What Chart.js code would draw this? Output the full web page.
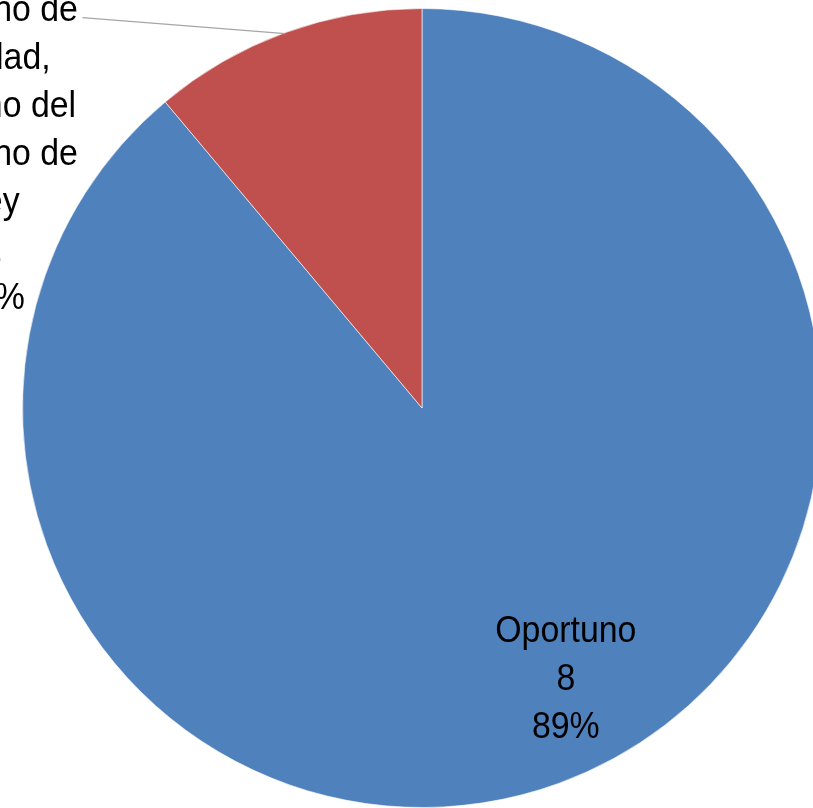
<!DOCTYPE html>
<html>
<head>
<meta charset="utf-8">
<script src="https://cdn.jsdelivr.net/npm/chart.js@4/dist/chart.umd.min.js"></script>
<style>
  html, body { margin: 0; padding: 0; background: #fff; }
  #wrap { width: 813px; height: 808px; overflow: hidden; position: relative; }
  #pie { position: absolute; left: 0; top: 0; }
</style>
</head>
<body>
<div id="wrap"><canvas id="pie" width="844" height="818"></canvas></div>
<script>
const categories = ['Oportuno', 'Término de calidad, término del Término de Ley'];
const values = [8, 1];
const percents = ['89%', '11%'];
const colors = ['#4F81BD', '#C0504D'];
// wrapped lines of the second label (left part is cut off in the picture)
const redLines = ['Término de', 'calidad,', 'término del', 'Término de', 'Ley'];

const FONT = "37px 'Liberation Sans', Arial, sans-serif";
const LINE_H = 48;

function drawLines(ctx, lines, cx, cy) {
    ctx.save();
    ctx.font = FONT;
    ctx.fillStyle = '#000';
    ctx.textAlign = 'center';
    ctx.textBaseline = 'middle';
    const top = cy - (lines.length - 1) * LINE_H / 2;
    lines.forEach((t, i) => {
        ctx.save();
        ctx.translate(cx, top + i * LINE_H);
        ctx.scale(0.915, 1);
        ctx.fillText(t, 0, 0);
        ctx.restore();
    });
    ctx.restore();
}

const labelPlugin = {
    id: 'pieLabels',
    afterDraw(chart) {
        const ctx = chart.ctx;
        const arcs = chart.getDatasetMeta(0).data;
        const a0 = arcs[0], a1 = arcs[1];
        const R = a0.outerRadius;
        const cx = a0.x, cy = a0.y;

        // inside label of the big slice
        drawLines(ctx, [categories[0], String(values[0]), percents[0]],
            cx + 0.36 * R, cy + 0.68 * R);

        // outside label of the small slice with leader line
        const mid = (a1.startAngle + a1.endAngle) / 2;
        const ex = cx + Math.cos(mid) * R, ey = cy + Math.sin(mid) * R;
        ctx.save();
        ctx.strokeStyle = '#A6A6A6';
        ctx.lineWidth = 1.2;
        ctx.beginPath();
        ctx.moveTo(ex, ey + 1);
        ctx.lineTo(cx - 0.85 * R, cy - 0.977 * R);
        ctx.stroke();
        ctx.restore();
        drawLines(ctx, [...redLines, String(values[1]), percents[1]],
            cx - 1.0755 * R, cy - 0.633 * R);
    }
};

new Chart(document.getElementById('pie').getContext('2d'), {
    type: 'pie',
    data: {
        labels: categories,
        datasets: [{
            data: values,
            backgroundColor: colors,
            borderColor: 'rgba(255,255,255,0.6)',
            borderWidth: 1
        }]
    },
    options: {
        responsive: false,
        animation: false,
        layout: { padding: { left: 22, right: 22, top: 8, bottom: 10 } },
        plugins: {
            legend: { display: false },
            tooltip: { enabled: false }
        }
    },
    plugins: [labelPlugin]
});
</script>
</body>
</html>
